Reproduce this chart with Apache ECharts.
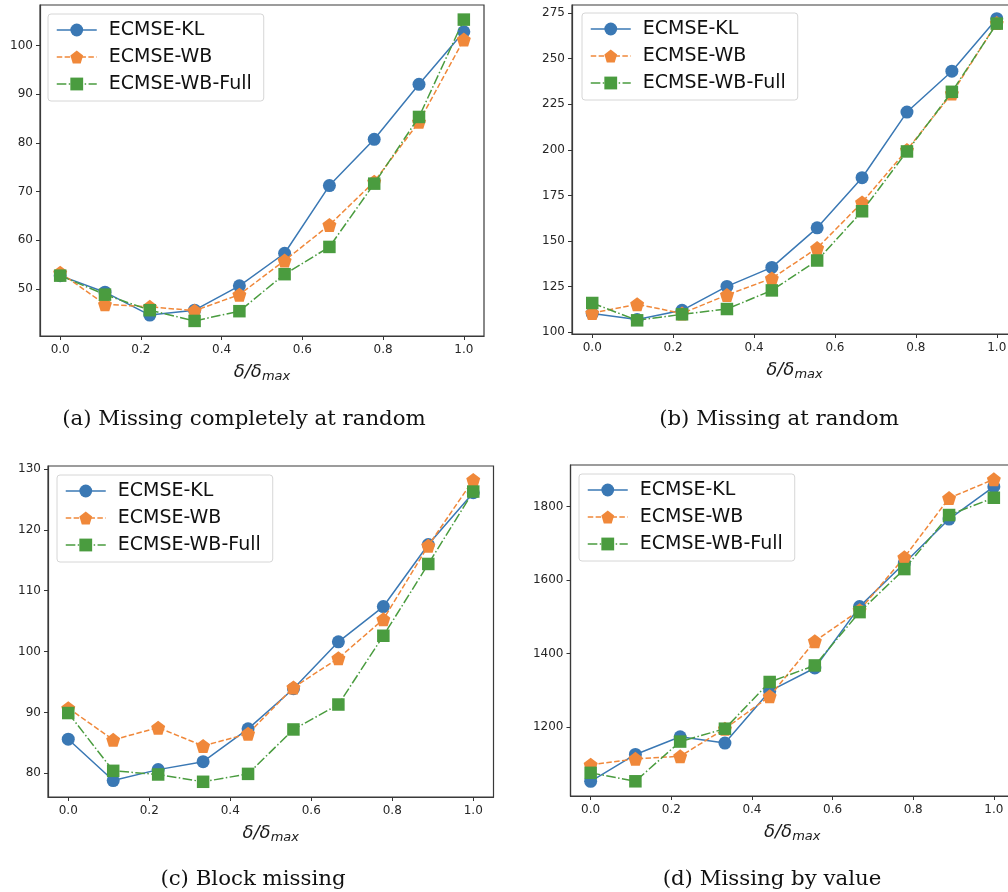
<!DOCTYPE html>
<html>
<head>
<meta charset="utf-8">
<script src="https://cdn.jsdelivr.net/npm/echarts@6/dist/echarts.min.js"></script>
<style>
html,body{margin:0;padding:0;background:#fff;}
#main{width:1008px;height:892px;}
</style>
</head>
<body>
<div id="main"></div>
<script>
// ---- data ----
const seriesNames = ['ECMSE-KL', 'ECMSE-WB', 'ECMSE-WB-Full'];
const xVals = [0, 0.111, 0.222, 0.333, 0.444, 0.556, 0.667, 0.778, 0.889, 1.0];
const xTicks = [0, 0.2, 0.4, 0.6, 0.8, 1.0];

// (a) Missing completely at random
const klA   = [52.7, 49.3, 44.6, 45.6, 50.6, 57.3, 71.2, 80.7, 92.0, 102.8];
const wbA   = [53.3, 46.8, 46.3, 45.5, 48.8, 55.8, 63.1, 72.0, 84.3, 101.2];
const fullA = [52.7, 48.8, 45.6, 43.4, 45.4, 53.0, 58.6, 71.6, 85.3, 105.3];
const yTicksA = [50, 60, 70, 80, 90, 100];

// (b) Missing at random
const klB   = [110.2, 106.9, 112.0, 125.1, 135.5, 157.2, 184.7, 220.7, 243.1, 271.9];
const wbB   = [110.5, 115.3, 110.3, 120.4, 129.5, 146.1, 171.1, 199.9, 230.9, 269.5];
const fullB = [116.0, 106.5, 109.8, 112.7, 122.9, 139.3, 166.3, 199.1, 231.8, 269.2];
const yTicksB = [100, 125, 150, 175, 200, 225, 250, 275];

// (c) Block missing
const klC   = [85.6, 78.8, 80.6, 81.9, 87.3, 93.9, 101.6, 107.4, 117.6, 126.1];
const wbC   = [90.7, 85.5, 87.5, 84.5, 86.5, 94.1, 98.9, 105.3, 117.4, 128.2];
const fullC = [89.9, 80.4, 79.8, 78.6, 79.9, 87.2, 91.3, 102.6, 114.4, 126.3];
const yTicksC = [80, 90, 100, 110, 120, 130];

// (d) Missing by value
const klD   = [1053, 1126, 1174, 1157, 1298, 1361, 1528, 1646, 1766, 1854];
const wbD   = [1098, 1114, 1121, 1196, 1284, 1434, 1518, 1662, 1823, 1874];
const fullD = [1076, 1053, 1161, 1196, 1323, 1368, 1513, 1630, 1777, 1824];
const yTicksD = [1200, 1400, 1600, 1800];

const captions = ['(a) Missing completely at random', '(b) Missing at random', '(c) Block missing', '(d) Missing by value'];

// ---- layout / style ----
const panels = [
  {data: [klA, wbA, fullA], yTicks: yTicksA, ymin: 40.3, ymax: 108.3,
   grid: {left: 40, right: 524, top: 5, bottom: 556}, legend: {left: 48, top: 14}, cap: [244, 419]},
  {data: [klB, wbB, fullB], yTicks: yTicksB, ymin: 99.0, ymax: 279.4,
   grid: {left: 572, right: -9, top: 5, bottom: 558}, legend: {left: 582, top: 13}, cap: [779, 419]},
  {data: [klC, wbC, fullC], yTicks: yTicksC, ymin: 76.1, ymax: 130.5,
   grid: {left: 48, right: 514.5, top: 466, bottom: 95}, legend: {left: 57, top: 475}, cap: [253, 879]},
  {data: [klD, wbD, fullD], yTicks: yTicksD, ymin: 1013, ymax: 1913,
   grid: {left: 570.5, right: -6, top: 465, bottom: 96}, legend: {left: 579, top: 474}, cap: [772, 879]}
];

const colors = ['#3a78b4', '#f0883a', '#4a9c3f'];
const pentagon = 'path://M0,-1 L0.951,-0.309 L0.588,0.809 L-0.588,0.809 L-0.951,-0.309 Z';
const symbols = ['circle', pentagon, 'rect'];
const symbolSizes = [13, 14, 12.5];
const lineTypes = ['solid', [5.5, 2.4], [9.6, 2.4, 1.5, 2.4]];
const tickColor = '#333';
const labelColor = '#262626';
const font = 'DejaVu Sans';

const grids = [], xAxes = [], yAxes = [], series = [], legends = [], graphics = [];
panels.forEach((p, i) => {
  grids.push(Object.assign({show: true, borderColor: '#3a3a3a', borderWidth: 1.2,
    backgroundColor: 'transparent', containLabel: false, outerBoundsMode: 'none'}, p.grid));
  xAxes.push({
    type: 'value', gridIndex: i, min: -0.05, max: 1.05,
    splitLine: {show: false},
    axisLine: {show: true, onZero: false, lineStyle: {color: '#3a3a3a', width: 1.2}},
    axisTick: {show: true, length: 4, customValues: xTicks, lineStyle: {color: tickColor}},
    axisLabel: {customValues: xTicks, formatter: v => Number(v).toFixed(1), margin: 8,
      fontSize: 12, color: labelColor, fontFamily: font},
    name: '{i|δ/δ}{s|max}', nameLocation: 'middle', nameGap: 25,
    nameTextStyle: {rich: {
      i: {fontSize: 18, fontStyle: 'italic', fontFamily: font, color: '#1a1a1a', lineHeight: 22},
      s: {fontSize: 13, fontStyle: 'italic', fontFamily: font, color: '#1a1a1a', lineHeight: 14, padding: [9, 0, 0, 0]}
    }}
  });
  yAxes.push({
    type: 'value', gridIndex: i, min: p.ymin, max: p.ymax,
    splitLine: {show: false},
    axisLine: {show: true, onZero: false, lineStyle: {color: '#3a3a3a', width: 1.2}},
    axisTick: {show: true, length: 4, customValues: p.yTicks, lineStyle: {color: tickColor}},
    axisLabel: {customValues: p.yTicks, formatter: v => String(Math.round(v)), margin: 7,
      fontSize: 12, color: labelColor, fontFamily: font}
  });
  seriesNames.forEach((name, k) => {
    series.push({
      type: 'line', name: name, xAxisIndex: i, yAxisIndex: i,
      data: xVals.map((x, j) => [x, p.data[k][j]]),
      symbol: symbols[k], symbolSize: symbolSizes[k], showAllSymbol: true,
      itemStyle: {color: colors[k]},
      lineStyle: {color: colors[k], width: 1.5, type: lineTypes[k]},
      animation: false, z: 2 + k
    });
  });
  legends.push({
    left: p.legend.left, top: p.legend.top, orient: 'vertical',
    data: seriesNames, selectedMode: false,
    backgroundColor: 'rgba(255,255,255,0.85)', borderColor: '#d6d6d6', borderWidth: 1, borderRadius: 3,
    padding: [6, 12, 7, 8], itemGap: 7, itemWidth: 40, itemHeight: 16,
    lineStyle: {width: 1.5},
    textStyle: {fontSize: 19, fontFamily: font, color: '#111', lineHeight: 20, padding: [0, 0, 0, 7]}
  });
  graphics.push({
    type: 'text', x: p.cap[0], y: p.cap[1],
    style: {text: captions[i], font: '21.3px "DejaVu Serif"', fill: '#111', align: 'center', verticalAlign: 'middle'}
  });
});

const chart = echarts.init(document.getElementById('main'), null, {renderer: 'canvas'});
chart.setOption({
  animation: false,
  backgroundColor: '#fff',
  grid: grids, xAxis: xAxes, yAxis: yAxes, series: series, legend: legends,
  graphic: graphics
});
</script>
</body>
</html>
